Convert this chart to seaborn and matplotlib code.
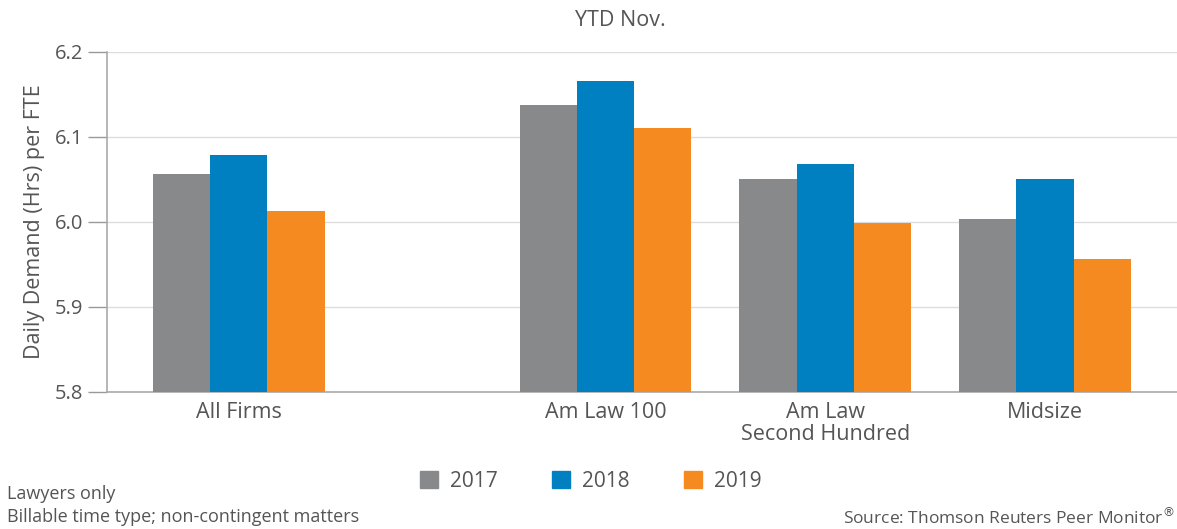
import matplotlib

matplotlib.use("Agg")
import matplotlib.pyplot as plt
import pandas as pd
import seaborn as sns

# data
categories = ["All Firms", "Am Law 100", "Am Law\nSecond Hundred", "Midsize"]
years = ["2017", "2018", "2019"]
values_2017 = [6.056, 6.138, 6.051, 6.004]
values_2018 = [6.079, 6.166, 6.068, 6.051]
values_2019 = [6.013, 6.111, 5.999, 5.956]

# group positions: wider gap after "All Firms"
positions = [0.0, 1.667, 2.667, 3.667]
colors = ["#88898b", "#0080c0", "#f58b20"]
text_color = "#555555"

rows = []
for year, vals in zip(years, [values_2017, values_2018, values_2019]):
    for pos, v in zip(positions, vals):
        rows.append({"pos": pos, "year": year, "value": v})
df = pd.DataFrame(rows)

sns.set_theme(style="white")
plt.rcParams["font.family"] = ["Open Sans", "DejaVu Sans"]

fig = plt.figure(figsize=(11.77, 5.29), dpi=100)
ax = fig.add_axes([0.0909, 0.259, 0.909, 0.643])

sns.barplot(
    data=df,
    x="pos",
    y="value",
    hue="year",
    hue_order=years,
    palette=colors,
    native_scale=True,
    width=0.78,
    saturation=1,
    errorbar=None,
    legend=False,
    linewidth=0,
    ax=ax,
    zorder=3,
)

ax.set_ylim(5.8, 6.2)
ax.set_yticks([5.8, 5.9, 6.0, 6.1, 6.2])
ax.set_yticklabels(["5.8", "5.9", "6.0", "6.1", "6.2"])
ax.set_xlim(-0.6, positions[-1] + 0.6)
ax.set_xticks(positions)
ax.set_xticklabels(categories, linespacing=1.05)
ax.yaxis.grid(True, color="#dddddd", linewidth=1, zorder=0)
ax.tick_params(axis="y", length=14, width=1, color="#999999", labelsize=14.5,
               labelcolor=text_color, pad=3, left=True)
ax.tick_params(axis="x", length=0, labelsize=15.5, labelcolor=text_color, pad=7)
for side in ["top", "right"]:
    ax.spines[side].set_visible(False)
for side in ["left", "bottom"]:
    ax.spines[side].set_color("#aaaaaa")
    ax.spines[side].set_linewidth(1.2)
ax.set_xlabel("")
ax.set_ylabel("Daily Demand (Hrs) per FTE", fontsize=15.5, color=text_color, labelpad=7)

fig.text(0.527, 0.962, "YTD Nov.", ha="center", va="center", fontsize=15.5,
         color=text_color)

# legend
handles = [plt.Rectangle((0, 0), 1, 1, color=c) for c in colors]
fig.legend(handles, years, loc="center", bbox_to_anchor=(0.502, 0.09), ncol=3,
           frameon=False, fontsize=15, handlelength=0.85, handleheight=0.85,
           handletextpad=0.6, columnspacing=2.6, labelcolor=text_color)

fig.text(0.006, 0.067, "Lawyers only", ha="left", va="center", fontsize=13,
         color=text_color)
fig.text(0.006, 0.022, "Billable time type; non-contingent matters", ha="left",
         va="center", fontsize=13, color=text_color)
fig.text(0.998, 0.022, "Source: Thomson Reuters Peer Monitor$^{\u00ae}$", ha="right",
         va="center", fontsize=12.5, color=text_color)

fig.savefig("out.png", dpi=100)
